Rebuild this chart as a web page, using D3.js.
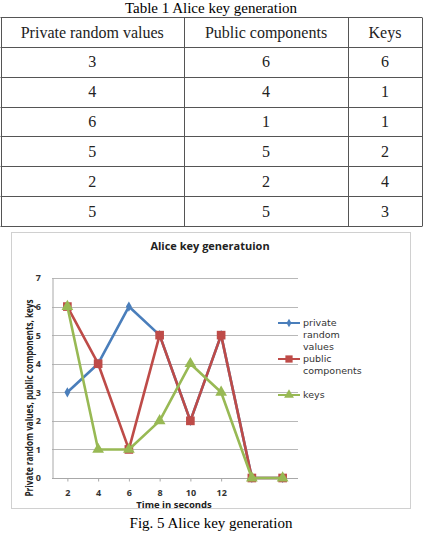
<!DOCTYPE html>
<html>
<head>
  <title>Alice key generation</title>
  <style>
    body { margin: 0; background: #fff; }
    svg { display: block; }
  </style>
</head>
<body>
  <script src="https://cdn.jsdelivr.net/npm/d3@7"></script>
  <script>
    // data
    var tableHeaders = ["Private random values", "Public components", "Keys"];
    var privateValues = [3, 4, 6, 5, 2, 5];
    var publicComponents = [6, 4, 1, 5, 2, 5];
    var keyValues = [6, 1, 1, 2, 4, 3];

    // chart: x categories (last two have no label), series values
    var timeLabels = ["2", "4", "6", "8", "10", "12", "", ""];
    var chartPrivate = [3, 4, 6, 5, 2, 5, 0, 0];
    var chartPublic = [6, 4, 1, 5, 2, 5, 0, 0];
    var chartKeys = [6, 1, 1, 2, 4, 3, 0, 0];
    var yTicks = [0, 1, 2, 3, 4, 5, 6, 7];
    var legendNames = [["private", "random", "values"], ["public", "components"], ["keys"]];

    var W = 423, H = 535;
    var svg = d3.select("body").append("svg")
      .attr("width", W)
      .attr("height", H);

    var serif = "'Liberation Serif', 'Times New Roman', serif";
    var sans = "'Open Sans', 'DejaVu Sans', sans-serif";

    // ---------- table ----------
    svg.append("text")
      .attr("x", 211).attr("y", 13)
      .attr("text-anchor", "middle")
      .style("font-family", serif).style("font-size", "15px")
      .text("Table 1 Alice key generation");

    var colEdges = [0.5, 184, 348, 422];
    var rows = privateValues.map(function(d, i) {
      return [d, publicComponents[i], keyValues[i]];
    });
    var rowY = d3.scaleBand()
      .domain(d3.range(rows.length + 1))
      .range([17, 226]);

    var table = svg.append("g").attr("id", "table");
    // horizontal lines
    table.selectAll(".hline")
      .data(d3.range(rows.length + 2))
      .enter().append("line")
      .attr("x1", colEdges[0]).attr("x2", colEdges[3])
      .attr("y1", function(i) { return i <= rows.length ? Math.round(rowY(i)) + 0.5 : 226.5; })
      .attr("y2", function(i) { return i <= rows.length ? Math.round(rowY(i)) + 0.5 : 226.5; })
      .attr("stroke", "#555").attr("stroke-width", 1);
    // vertical lines
    table.selectAll(".vline")
      .data(colEdges)
      .enter().append("line")
      .attr("x1", function(d) { return Math.round(d) + 0.5; })
      .attr("x2", function(d) { return Math.round(d) + 0.5; })
      .attr("y1", 17.5).attr("y2", 226.5)
      .attr("stroke", "#555").attr("stroke-width", 1);

    var allRows = [tableHeaders].concat(rows);
    allRows.forEach(function(r, ri) {
      r.forEach(function(v, ci) {
        table.append("text")
          .attr("x", (colEdges[ci] + colEdges[ci + 1]) / 2)
          .attr("y", rowY(ri) + rowY.bandwidth() / 2)
          .attr("dy", "0.35em")
          .attr("text-anchor", "middle")
          .style("font-family", serif).style("font-size", "16px")
          .style("fill", "#222")
          .text(v);
      });
    });

    // ---------- chart ----------
    svg.append("rect")
      .attr("x", 11.5).attr("y", 232.5)
      .attr("width", 399).attr("height", 276)
      .attr("fill", "#fff").attr("stroke", "#d0d0d0");

    svg.append("text")
      .attr("x", 210).attr("y", 250)
      .attr("text-anchor", "middle")
      .style("font-family", sans).style("font-size", "11px").style("font-weight", "bold")
      .style("fill", "#222")
      .text("Alice key generatuion");

    var x = d3.scalePoint()
      .domain(d3.range(timeLabels.length))
      .range([52, 298])
      .padding(0.5);
    var y = d3.scaleLinear().domain([0, 7]).range([478, 278]);

    // gridlines
    svg.append("g")
      .selectAll("line")
      .data(yTicks.slice(1))
      .enter().append("line")
      .attr("x1", 52).attr("x2", 298)
      .attr("y1", function(d) { return Math.round(y(d)) + 0.5; })
      .attr("y2", function(d) { return Math.round(y(d)) + 0.5; })
      .attr("stroke", "#b8b8b8");

    // y axis
    var yAxis = svg.append("g")
      .attr("transform", "translate(52.5,0)")
      .call(d3.axisLeft(y).tickValues(yTicks).tickFormat(d3.format("d"))
        .tickSize(0).tickPadding(11.5));
    yAxis.select(".domain").attr("stroke", "#a8a8a8");
    yAxis.selectAll("text")
      .style("font-family", sans).style("font-size", "9px").style("font-weight", "bold")
      .style("fill", "#333");

    // x axis
    var xAxis = svg.append("g")
      .attr("transform", "translate(0,478.5)")
      .call(d3.axisBottom(x).tickFormat(function(i) { return timeLabels[i]; })
        .tickSize(3).tickSizeOuter(0).tickPadding(8));
    xAxis.select(".domain").attr("stroke", "#a8a8a8").attr("d", "M52,0H298");
    xAxis.selectAll(".tick line").attr("stroke", "#a8a8a8");
    xAxis.selectAll("text")
      .style("font-family", sans).style("font-size", "9px").style("font-weight", "bold")
      .style("fill", "#333");

    // axis titles
    svg.append("text")
      .attr("x", 174).attr("y", 508)
      .attr("text-anchor", "middle")
      .style("font-family", sans).style("font-size", "9.5px").style("font-weight", "bold")
      .style("fill", "#222")
      .text("Time in seconds");

    svg.append("text")
      .attr("transform", "translate(33,398) rotate(-90)")
      .attr("text-anchor", "middle")
      .attr("textLength", 197).attr("lengthAdjust", "spacingAndGlyphs")
      .style("font-family", sans).style("font-size", "10px").style("font-weight", "bold")
      .style("fill", "#222")
      .text("Private random values, public components, keys");

    var series = [
      { values: chartPrivate, color: "#4a7ebb", shape: d3.symbolDiamond, size: 30 },
      { values: chartPublic, color: "#be4b48", shape: d3.symbolSquare, size: 75 },
      { values: chartKeys, color: "#98b954", shape: d3.symbolTriangle, size: 60 }
    ];

    var line = d3.line()
      .x(function(d, i) { return x(i); })
      .y(function(d) { return y(d); });

    series.forEach(function(s) {
      svg.append("path")
        .datum(s.values)
        .attr("d", line)
        .attr("fill", "none")
        .attr("stroke", s.color)
        .attr("stroke-width", 2.6)
        .attr("stroke-linejoin", "round");
      svg.selectAll(null)
        .data(s.values)
        .enter().append("path")
        .attr("transform", function(d, i) { return "translate(" + x(i) + "," + y(d) + ")"; })
        .attr("d", d3.symbol().type(s.shape).size(s.size))
        .attr("fill", s.color);
    });

    // legend
    var legendY = [323, 359, 395];
    series.forEach(function(s, i) {
      var g = svg.append("g").attr("transform", "translate(278," + legendY[i] + ")");
      g.append("line")
        .attr("x1", 0).attr("x2", 22)
        .attr("stroke", s.color).attr("stroke-width", 2);
      g.append("path")
        .attr("transform", "translate(11,0)")
        .attr("d", d3.symbol().type(s.shape).size(s.size * 0.7))
        .attr("fill", s.color);
      legendNames[i].forEach(function(t, j) {
        g.append("text")
          .attr("x", 25).attr("y", j * 11.7)
          .attr("dy", "0.33em")
          .style("font-family", "'DejaVu Sans', sans-serif").style("font-size", "9.5px")
          .style("fill", "#333")
          .text(t);
      });
    });

    // figure caption
    svg.append("text")
      .attr("x", 211).attr("y", 528)
      .attr("text-anchor", "middle")
      .style("font-family", serif).style("font-size", "15px")
      .text("Fig. 5 Alice key generation");
  </script>
</body>
</html>
